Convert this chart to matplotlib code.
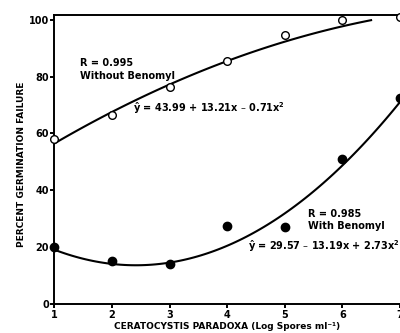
import numpy as np
import matplotlib
matplotlib.use('Agg')
import matplotlib.pyplot as plt

# log spores per ml
x = [1, 2, 3, 4, 5, 6, 7]
# percent germination failure
without_benomyl = [58, 66.5, 76.5, 85.5, 94.5, 100, 101]
with_benomyl = [20, 15, 14, 27.5, 27, 51, 72.5]

# fitted quadratic coefficients (c0, c1, c2) as printed on the chart
coef_without = [43.99, 13.21, -0.71]
coef_with = [29.57, -13.19, 2.73]

font = 7
linew = 1.5
frame = 1.4

plt.rcParams['font.family'] = 'DejaVu Sans'
plt.rcParams['font.weight'] = 'bold'
plt.rcParams['mathtext.default'] = 'bf'

fig = plt.figure(figsize=(4, 3.33), dpi=100)
ax = fig.add_axes([0.136, 0.087, 0.868, 0.869])

xs1 = np.linspace(1, 6.5, 100)
xs2 = np.linspace(1, 7, 100)
ax.plot(xs1, coef_without[0] + coef_without[1]*xs1 + coef_without[2]*xs1**2,
        color='black', linewidth=linew, zorder=2)
ax.plot(xs2, coef_with[0] + coef_with[1]*xs2 + coef_with[2]*xs2**2,
        color='black', linewidth=linew, zorder=2)

ax.plot(x, without_benomyl, 'o', markersize=5.5, markerfacecolor='white',
        markeredgecolor='black', markeredgewidth=1.0, clip_on=False, zorder=3)
ax.plot(x, with_benomyl, 'o', markersize=6, color='black', clip_on=False, zorder=3)

ax.text(1.44, 82.5, 'R = 0.995\nWithout Benomyl', fontsize=font, fontweight='bold',
        linespacing=1.3, va='center')
ax.text(2.37, 69, 'ŷ = 43.99 + 13.21x – 0.71x$^2$', fontsize=font, fontweight='bold',
        va='center')
ax.text(5.4, 29.5, 'R = 0.985\nWith Benomyl', fontsize=font, fontweight='bold',
        linespacing=1.3, va='center')
ax.text(4.36, 20.5, 'ŷ = 29.57 – 13.19x + 2.73x$^2$', fontsize=font, fontweight='bold',
        va='center')

ax.set_xlim(1, 7.03)
ax.set_ylim(0, 101.8)
ax.set_xticks(x)
ax.set_yticks([0, 20, 40, 60, 80, 100])
ax.tick_params(direction='out', length=3, width=frame, labelsize=font, pad=1)
ax.spines['right'].set_visible(False)
for s in ['top', 'left', 'bottom']:
    ax.spines[s].set_linewidth(frame)

ax.set_ylabel('PERCENT GERMINATION FAILURE', fontsize=6.5, fontweight='bold')
ax.yaxis.set_label_coords(-0.094, 0.484)
ax.yaxis.label.set_va('center')
ax.set_xlabel('CERATOCYSTIS PARADOXA (Log Spores ml⁻¹)', fontsize=6.5,
              fontweight='bold')
ax.xaxis.set_label_coords(0.497, -0.077)
ax.xaxis.label.set_va('center')

plt.savefig('out.png', dpi=100)
